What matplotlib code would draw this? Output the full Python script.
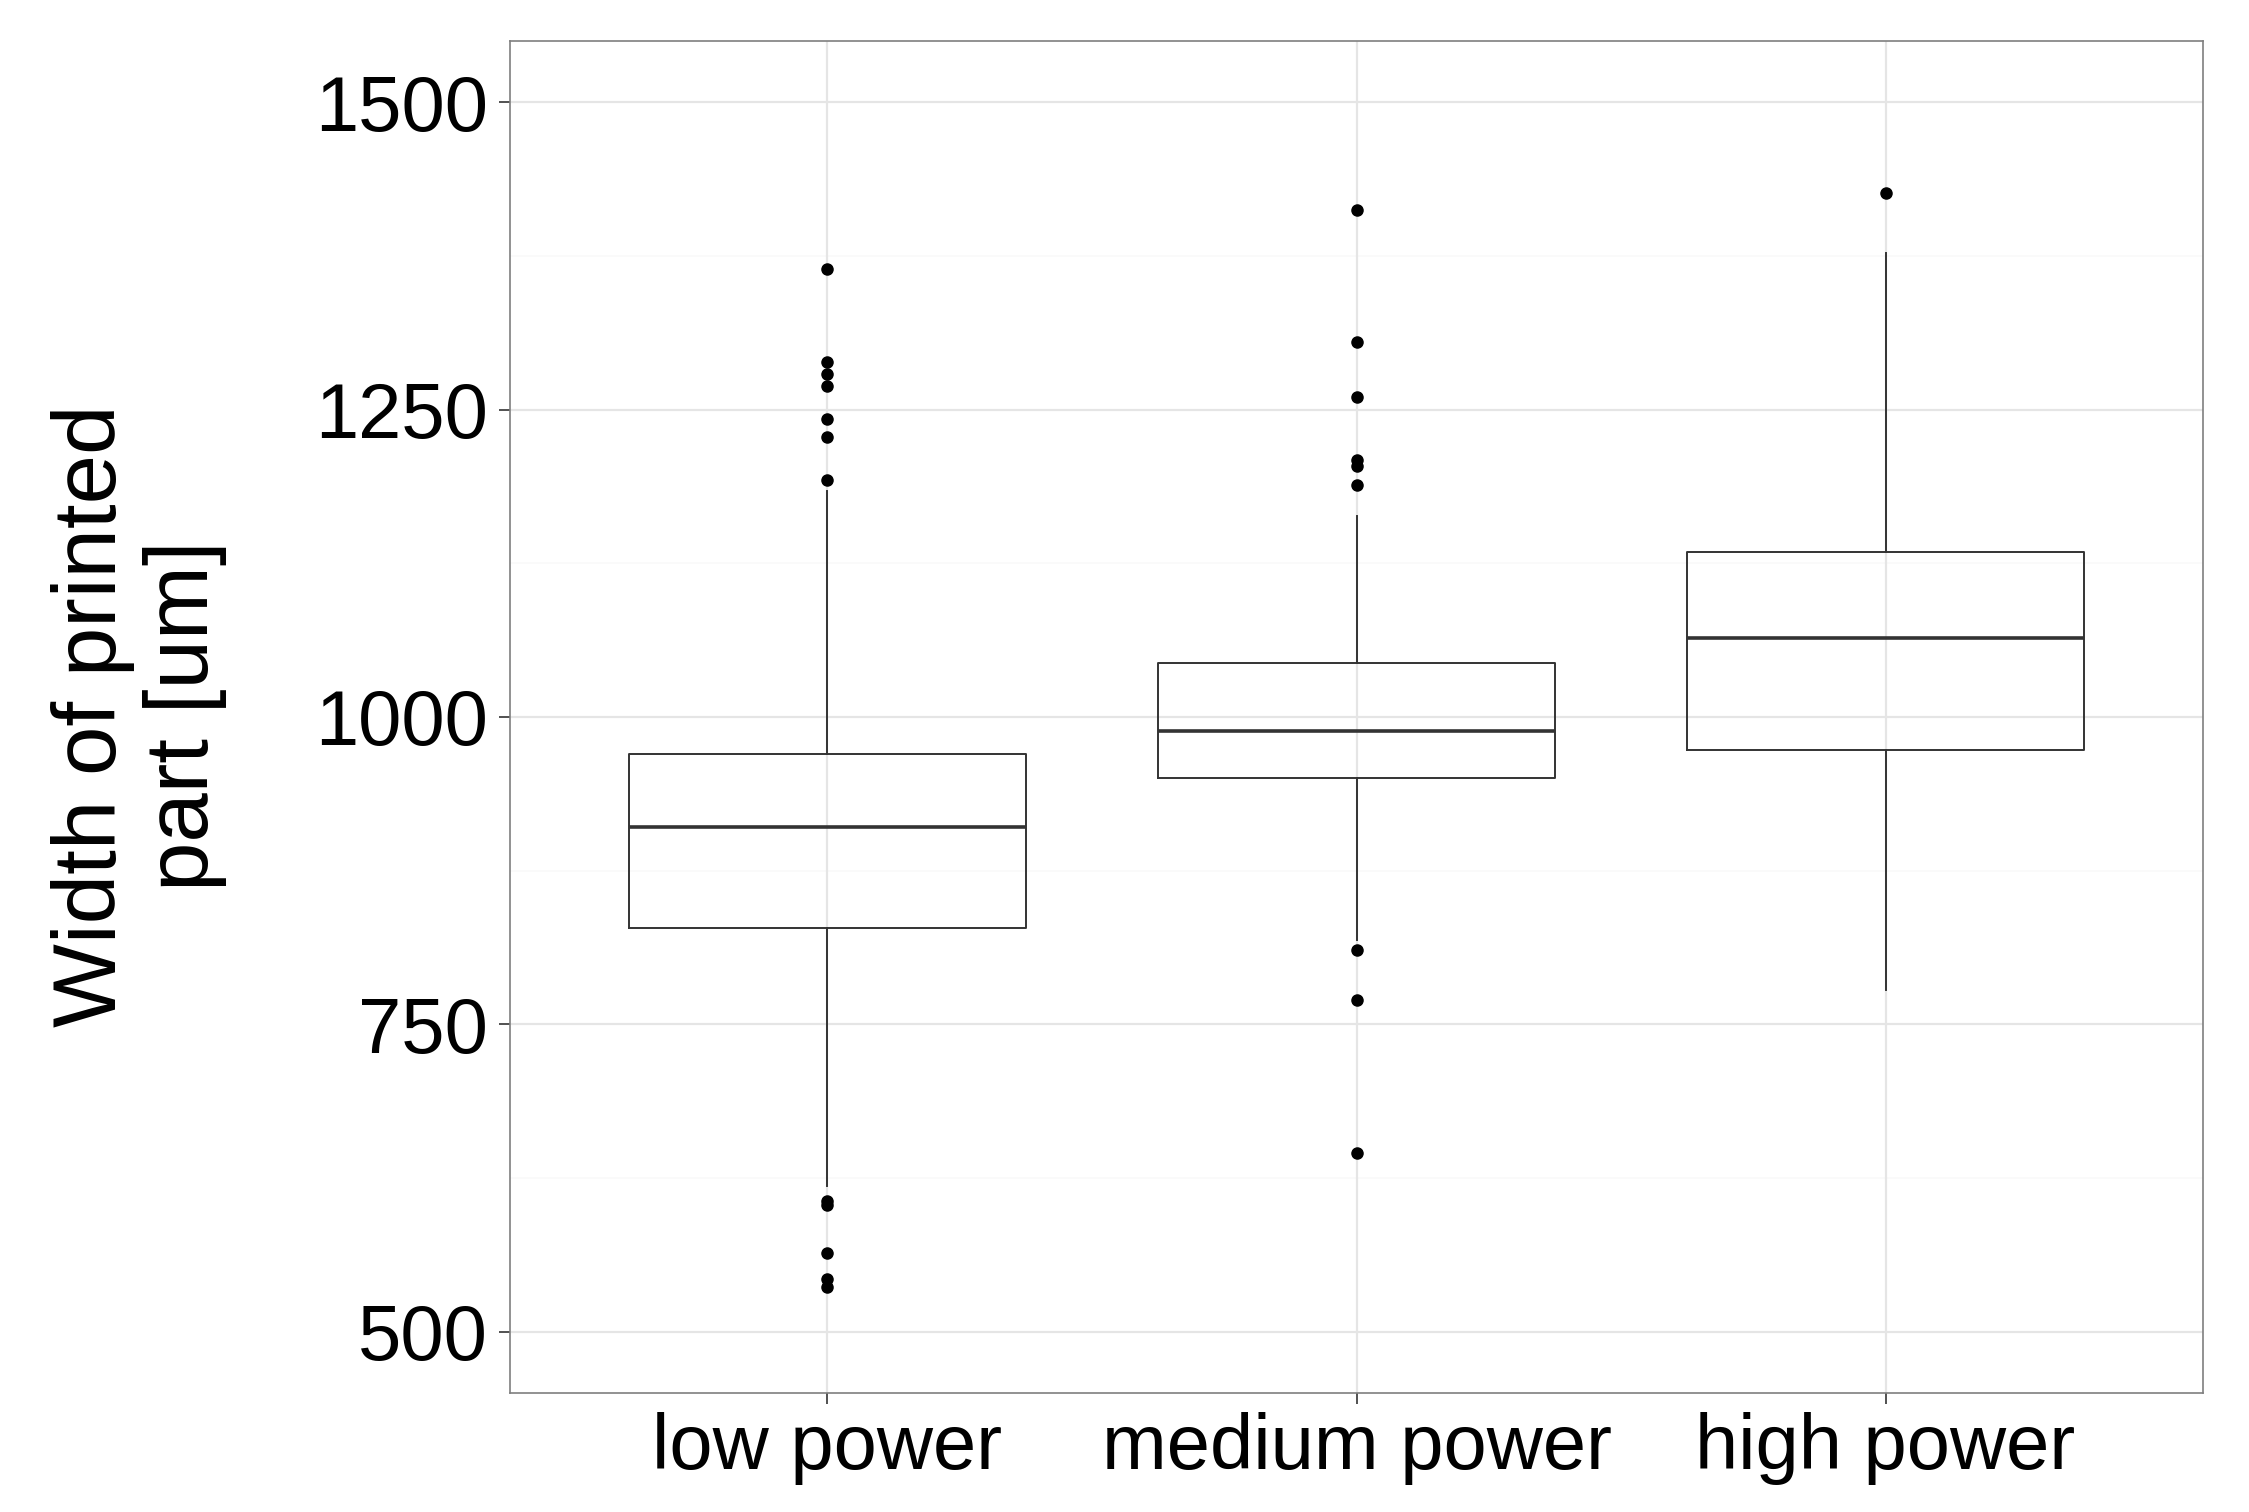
import matplotlib
matplotlib.use("Agg")
import matplotlib.pyplot as plt

plt.rcParams['font.family'] = ['Liberation Sans', 'DejaVu Sans']

# data
groups = ["low power", "medium power", "high power"]
q1 = [828, 950, 973]
medians = [910, 988.5, 1064]
q3 = [970, 1044, 1134]
whisker_low = [618, 818.6, 778]
whisker_high = [1184, 1163.4, 1377.6]
fliers_low = [1364, 1289, 1279, 1269, 1242, 1228, 1193,
              606, 603, 564, 542.5, 536]
fliers_medium = [1412, 1305, 1260, 1209, 1204, 1189, 810.6, 770, 645]
fliers_high = [1426]
fliers = [fliers_low, fliers_medium, fliers_high]
yticks = [500, 750, 1000, 1250, 1500]

stats = []
for i, g in enumerate(groups):
    stats.append(dict(label=g, q1=q1[i], med=medians[i], q3=q3[i],
                      whislo=whisker_low[i], whishi=whisker_high[i],
                      fliers=fliers[i]))

fig = plt.figure(figsize=(22.49, 15.12), dpi=100)
ax = fig.add_axes([510 / 2249, 1 - 1393 / 1512, (2203 - 510) / 2249, (1393 - 40.7) / 1512])

# grid like old ggplot theme_bw
for v in [625, 875, 1125, 1375]:
    ax.axhline(v, color='#fafafa', lw=1.2, zorder=0)
for v in yticks:
    ax.axhline(v, color='#e5e5e5', lw=1.6, zorder=0)
for x in [1, 2, 3]:
    ax.axvline(x, color='#e5e5e5', lw=1.6, zorder=0)

ax.bxp(stats, positions=[1, 2, 3], widths=0.75, showcaps=False,
       boxprops=dict(color='#333333', lw=1.4),
       whiskerprops=dict(color='#333333', lw=1.4),
       medianprops=dict(color='#333333', lw=2.6),
       flierprops=dict(marker='o', markersize=8, markerfacecolor='black',
                       markeredgecolor='black'))

ax.set_xlim(0.4, 3.6)
ax.set_ylim(450, 1550)
ax.set_yticks(yticks)
ax.set_xticks([1, 2, 3])
ax.set_xticklabels(groups)
ax.tick_params(axis='both', labelsize=56, length=8, width=1.2, color='#333333', labelcolor='black')
ax.tick_params(axis='y', pad=8)
ax.tick_params(axis='x', pad=6)
for s in ax.spines.values():
    s.set_color('#7f7f7f')
    s.set_linewidth(1.2)

fig.text(139 / 2249, 1 - 716 / 1512, "Width of printed\npart [um]", rotation=90,
         ha='center', va='center', multialignment='center', fontsize=64,
         linespacing=1.12)

fig.savefig("out.png", dpi=100)
